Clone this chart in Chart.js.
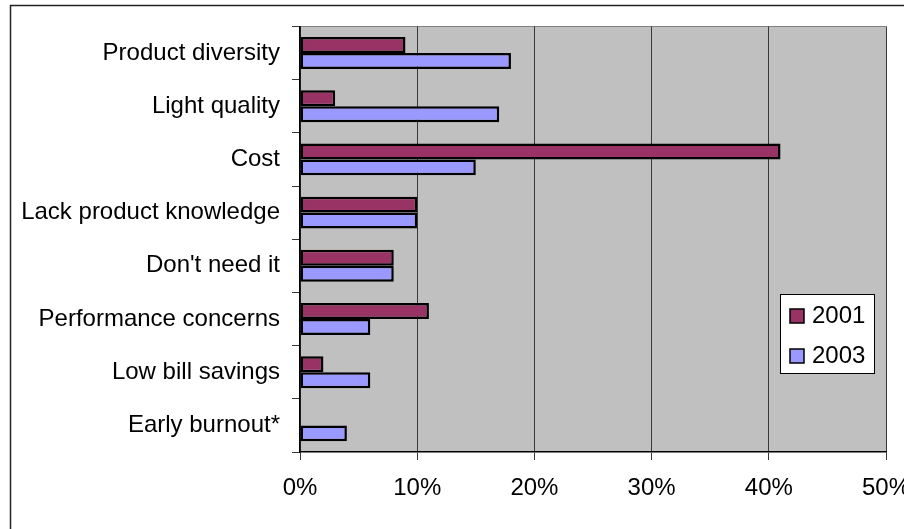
<!DOCTYPE html>
<html>
<head>
<meta charset="utf-8">
<title>Barriers</title>
<script src="https://cdn.jsdelivr.net/npm/chart.js@4.4.1/dist/chart.umd.min.js"></script>
<style>
    html, body { margin: 0; padding: 0; background: #fff; }
    #chart_1 { display: block; }
</style>
</head>
<body>
<canvas id="chart_1" width="904" height="529"></canvas>
<script>

const categories = [
    'Product diversity',
    'Light quality',
    'Cost',
    'Lack product knowledge',
    "Don't need it",
    'Performance concerns',
    'Low bill savings',
    'Early burnout*'
];
const seriesNames = ['2001', '2003'];
const values2001 = [9, 3, 41, 10, 8, 11, 2, 0];
const values2003 = [18, 17, 15, 10, 8, 6, 6, 4];
const xTicksMin = 0;
const xTicksMax = 50;
const xTicksStep = 10;

const FONT = 'Liberation Sans, Arial, sans-serif';
const FONT_SIZE = 24;

// grey plot background + outer frame
const frame = {
    id: 'frame',
    beforeDraw(chart){
        let ctx = chart.ctx;
        let a = chart.chartArea;
        ctx.save();
        ctx.fillStyle = '#c0c0c0';
        ctx.fillRect(a.left, a.top, a.right - a.left, a.bottom - a.top);
        ctx.strokeStyle = '#808080';
        ctx.lineWidth = 1;
        ctx.beginPath();
        ctx.moveTo(a.left, Math.round(a.top) + 0.5);
        ctx.lineTo(a.right, Math.round(a.top) + 0.5);
        ctx.stroke();
        ctx.strokeStyle = '#222';
        ctx.lineWidth = 1.5;
        ctx.strokeRect(10.5, 5.5, chart.width + 20, chart.height + 20);
        ctx.restore();
    }
};

// boxed legend sitting inside the plot, right side
const boxLegend = {
    id: 'boxLegend',
    afterDraw(chart){
        let ctx = chart.ctx;
        let x = 780, y = 294, w = 94, h = 79;
        ctx.save();
        ctx.fillStyle = '#fff';
        ctx.fillRect(x, y, w, h);
        ctx.strokeStyle = '#000';
        ctx.lineWidth = 1;
        ctx.strokeRect(x + 0.5, y + 0.5, w, h);
        ctx.font = FONT_SIZE + 'px ' + FONT;
        ctx.textBaseline = 'alphabetic';
        chart.data.datasets.forEach((ds, i) => {
            let sy = y + 15 + i * 40;
            ctx.fillStyle = ds.backgroundColor;
            ctx.fillRect(x + 10, sy, 14, 14);
            ctx.strokeStyle = '#000';
            ctx.lineWidth = 1.5;
            ctx.strokeRect(x + 10, sy, 14, 14);
            ctx.fillStyle = '#000';
            ctx.fillText(ds.label, x + 32, sy + 14);
        });
        ctx.restore();
    }
};

function chartInit(){
    return new Chart('chart_1', {
        type: 'bar',
        data: {
            labels: categories,
            datasets: [{
                label: seriesNames[0],
                data: values2001,
                backgroundColor: '#993366',
                borderColor: '#000',
                borderWidth: 2.5,
                borderSkipped: false
            }, {
                label: seriesNames[1],
                data: values2003,
                backgroundColor: '#9999ff',
                borderColor: '#000',
                borderWidth: 2.5,
                borderSkipped: false
            }]
        },
        options: {
            indexAxis: 'y',
            responsive: false,
            animation: false,
            categoryPercentage: 0.6,
            barPercentage: 1.0,
            layout: {
                padding: { top: 26, right: 18, left: 0, bottom: 0 }
            },
            plugins: {
                legend: { display: false },
                tooltip: { enabled: false },
                title: { display: false }
            },
            scales: {
                x: {
                    min: xTicksMin,
                    max: xTicksMax,
                    afterFit(scale){
                        scale.height = 77;
                        // let the last tick label run past the edge
                        scale.paddingLeft = 0;
                        scale.paddingRight = 0;
                    },
                    ticks: {
                        stepSize: xTicksStep,
                        color: '#000',
                        padding: 14,
                        maxRotation: 0,
                        font: { family: FONT, size: FONT_SIZE },
                        callback: (v) => v + '%'
                    },
                    grid: {
                        color: '#383838',
                        lineWidth: 1,
                        tickLength: 8,
                        tickColor: '#383838'
                    },
                    border: { color: '#000', width: 1.5 }
                },
                y: {
                    afterFit(scale){ scale.width = 300; },
                    ticks: {
                        color: '#000',
                        padding: 12,
                        font: { family: FONT, size: FONT_SIZE }
                    },
                    grid: {
                        offset: true,
                        drawOnChartArea: false,
                        tickLength: 8,
                        tickColor: '#383838'
                    },
                    border: { color: '#000', width: 1.5 }
                }
            }
        },
        plugins: [frame, boxLegend]
    });
}

let chart = chartInit();
</script>
</body>
</html>
